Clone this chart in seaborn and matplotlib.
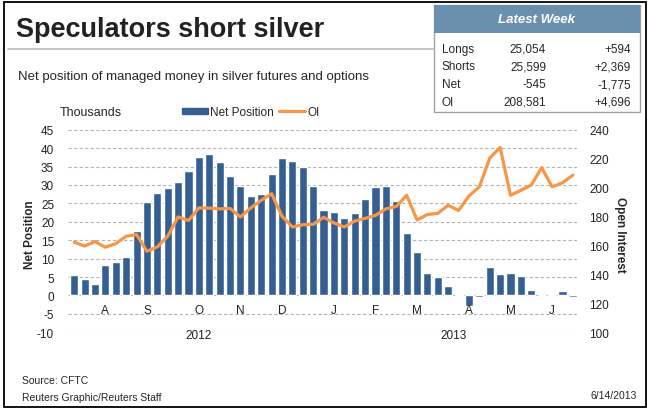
import numpy as np
import pandas as pd
import matplotlib.pyplot as plt
import seaborn as sns
from matplotlib.patches import Rectangle
from matplotlib.lines import Line2D

# weekly COT data, thousands of contracts
net_position = [5.5, 4.5, 3.1, 8.3, 9.2, 10.5, 17.4, 25.3, 27.9, 29.3,
                30.9, 33.9, 37.7, 38.5, 36.1, 32.3, 29.8, 27.1, 27.6, 33.1,
                37.2, 36.6, 34.8, 29.8, 23.1, 22.6, 20.9, 22.3, 26.1, 29.4,
                29.8, 25.6, 16.9, 11.7, 6.0, 5.0, 2.7, 0.5, -2.9, -0.5,
                7.6, 5.7, 6.0, 5.2, 1.4, 0.2, 0.3, 1.1, -0.545]
open_interest = [162.2, 159.6, 162.7, 158.8, 161.3, 166.4, 167.5, 156.0, 159.0, 166.4,
                 179.7, 177.3, 186.0, 185.8, 185.3, 185.6, 179.7, 186.0, 191.2, 195.8,
                 180.2, 172.8, 174.3, 174.6, 179.5, 175.6, 172.8, 176.9, 178.7, 180.8,
                 185.3, 186.9, 194.7, 177.6, 181.4, 182.2, 187.8, 184.2, 194.2, 200.5,
                 220.4, 227.7, 194.7, 198.1, 201.8, 213.8, 200.5, 203.3, 208.6]
first_week = "2012-07-10"
month_letters = ["A", "S", "O", "N", "D", "J", "F", "M", "A", "M", "J"]
# report week each month letter sits under
month_weeks = ["2012-07-31", "2012-08-28", "2012-10-02", "2012-10-30", "2012-11-27",
               "2013-01-01", "2013-01-29", "2013-02-26", "2013-04-02", "2013-04-30",
               "2013-05-28"]
years = [2012, 2013]

table_rows = ["Longs", "Shorts", "Net", "OI"]
table_values = ["25,054", "25,599", "-545", "208,581"]
table_changes = ["+594", "+2,369", "-1,775", "+4,696"]

dates = pd.date_range(first_week, periods=len(net_position), freq="7D")
df = pd.DataFrame({"idx": np.arange(len(dates)), "date": dates,
                   "net": net_position, "oi": open_interest})

sns.set_style("white")
plt.rcParams["font.family"] = ["Liberation Sans", "DejaVu Sans"]
plt.rcParams["axes.unicode_minus"] = False

W, H = 649, 410
fig = plt.figure(figsize=(W / 100, H / 100), dpi=100)

def fx(px):
    return px / W

def fy(py):
    return 1 - py / H

BLUE = "#365f91"
ORANGE = "#f79646"
GRID = "#b4b4b4"
TXT = "#222222"

ax = fig.add_axes([fx(68), fy(333.3), (577 - 68) / W, (333.3 - 130.7) / H])
sns.barplot(data=df, x="idx", y="net", color=BLUE, saturation=1, width=0.78, ax=ax)
ax2 = ax.twinx()
sns.lineplot(data=df, x="idx", y="oi", color=ORANGE, lw=2.3, ax=ax2)

ax.set_xlim(-0.6, len(df) - 0.6)
ax.set_ylim(-10, 45)
ax.set_yticks(np.arange(-10, 46, 5))
ax2.set_ylim(100, 240)
ax2.set_yticks(np.arange(100, 241, 20))
ax.yaxis.grid(True, color=GRID, ls=(0, (3, 2)), lw=0.8)
ax.set_axisbelow(True)
for a in (ax, ax2):
    for s in a.spines.values():
        s.set_visible(False)
    a.tick_params(length=0, labelsize=8.5, colors=TXT)
    a.set_xlabel("")
    a.set_ylabel("")
ax.tick_params(axis="y", pad=10)
ax2.tick_params(axis="y", pad=9)
ax.set_xticks([])

# month letters sit on the -5 gridline
week_idx = pd.Series(df["idx"].values, index=df["date"])
for letter, d in zip(month_letters, month_weeks):
    ax.text(week_idx[pd.Timestamp(d)], -3.9, letter, ha="center", va="center",
            fontsize=8.5, color=TXT)
for y in years:
    xm = df.loc[df["date"].dt.year == y, "idx"].mean()
    ax.text(xm, -10.8, str(y), ha="center", va="center", fontsize=8.5, color=TXT)

fig.text(fx(30), fy(235), "Net Position", rotation=90, ha="center", va="center",
         fontsize=8.5, fontweight="bold")
fig.text(fx(620), fy(235), "Open Interest", rotation=270, ha="center", va="center",
         fontsize=8.5, fontweight="bold")

# legend
fig.text(fx(60), fy(113), "Thousands", ha="left", va="center", fontsize=9)
handles = [Rectangle((0, 0), 1, 1, color=BLUE), Line2D([0], [0], color=ORANGE, lw=2.3)]
fig.legend(handles, ["Net Position", "OI"], loc="center left",
           bbox_to_anchor=(fx(182), fy(113)), ncol=2, frameon=False, fontsize=8.5,
           handlelength=2.2, handleheight=0.45, handletextpad=0.15, columnspacing=0.5,
           borderpad=0, borderaxespad=0)

# header
fig.text(fx(16), fy(37), "Speculators short silver", fontsize=19.5, fontweight="bold",
         color=TXT, va="baseline")
fig.add_artist(Line2D([fx(8), fx(434)], [fy(50), fy(50)], color="#bbbbbb", lw=1.2))
fig.text(fx(18), fy(77), "Net position of managed money in silver futures and options",
         fontsize=9.5, va="center")

# latest week box
fig.add_artist(Rectangle((fx(434), fy(113)), (640 - 434) / W, (113 - 6) / H,
                         transform=fig.transFigure, facecolor="white",
                         edgecolor="#a0a0a0", lw=1))
fig.add_artist(Rectangle((fx(434), fy(34)), (640 - 434) / W, (34 - 6) / H,
                         transform=fig.transFigure, facecolor="#6b90ae", lw=0))
fig.text(fx(537), fy(20), "Latest Week", ha="center", va="center", color="white",
         fontsize=9.5, fontweight="bold", fontstyle="italic")
for i, (r, v, c) in enumerate(zip(table_rows, table_values, table_changes)):
    y = fy(50 + i * 17.5)
    fig.text(fx(442), y, r, ha="left", va="center", fontsize=8.5)
    fig.text(fx(546), y, v, ha="right", va="center", fontsize=8.5)
    fig.text(fx(631), y, c, ha="right", va="center", fontsize=8.5)

# footer
fig.text(fx(22), fy(381), "Source: CFTC", fontsize=7.5, va="center")
fig.text(fx(22), fy(398), "Reuters Graphic/Reuters Staff", fontsize=7.5, va="center")
fig.text(fx(637), fy(396), "6/14/2013", fontsize=7.5, va="center", ha="right")

# outer frame
fig.add_artist(Rectangle((fx(4), fy(408)), (646 - 4) / W, (408 - 3) / H,
                         transform=fig.transFigure, fill=False, edgecolor="black", lw=1.3))

fig.savefig("out.png", dpi=100)
